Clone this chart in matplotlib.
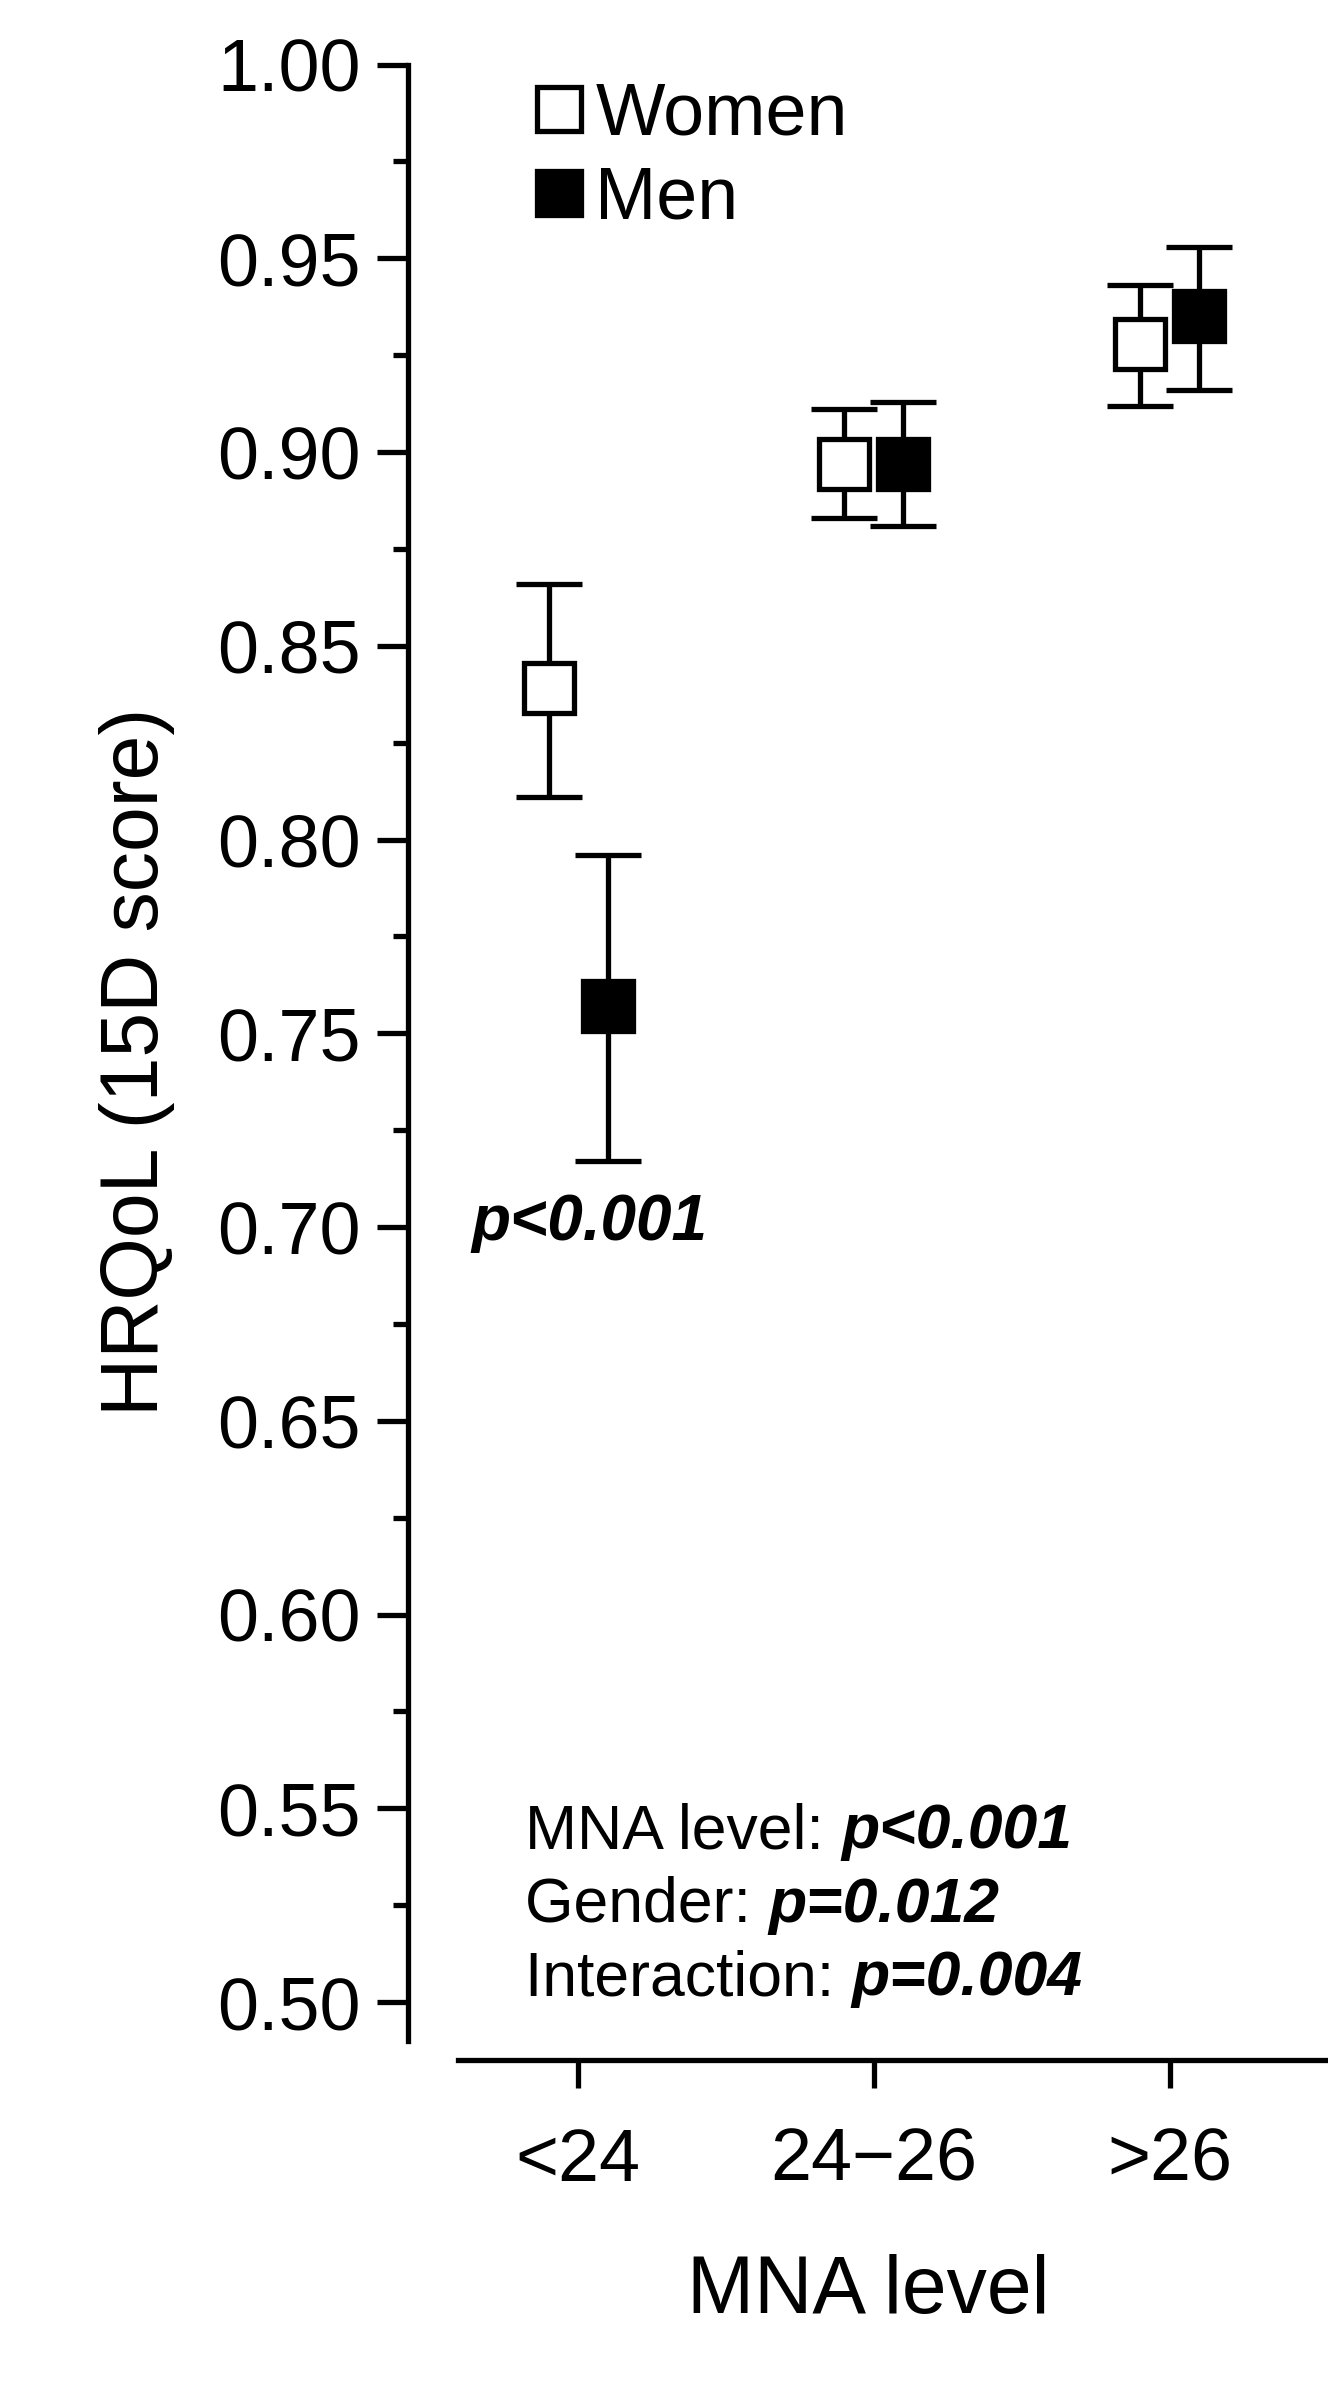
import matplotlib
matplotlib.use("Agg")
import matplotlib.pyplot as plt
from matplotlib.lines import Line2D

plt.rcParams['font.family'] = ['Liberation Sans', 'DejaVu Sans']

categories = ["<24", "24\u221226", ">26"]
women_mean = [0.839, 0.897, 0.928]
women_lo = [0.811, 0.883, 0.912]
women_hi = [0.866, 0.911, 0.943]
men_mean = [0.757, 0.897, 0.935]
men_lo = [0.717, 0.881, 0.916]
men_hi = [0.796, 0.913, 0.953]
yticks = [0.50, 0.55, 0.60, 0.65, 0.70, 0.75, 0.80, 0.85, 0.90, 0.95, 1.00]

fig = plt.figure(figsize=(13.28, 23.9), dpi=100)
ax = fig.add_axes([0.307, 0.138, 0.693, 0.835])

x = list(range(len(categories)))
off = 0.1
xw = [i - off for i in x]
xm = [i + off for i in x]
lw = 3.8
ew = dict(ecolor='black', elinewidth=lw, capsize=24, capthick=lw, linestyle='none')
ax.errorbar(xw, women_mean, yerr=[[m - l for m, l in zip(women_mean, women_lo)],
                                  [h - m for m, h in zip(women_mean, women_hi)]],
            marker='s', markersize=36, markerfacecolor='white', markeredgecolor='black',
            markeredgewidth=lw, zorder=3, **ew)
ax.errorbar(xm, men_mean, yerr=[[m - l for m, l in zip(men_mean, men_lo)],
                                [h - m for m, h in zip(men_mean, men_hi)]],
            marker='s', markersize=36, markerfacecolor='black', markeredgecolor='black',
            markeredgewidth=lw, zorder=3, **ew)

ax.set_xlim(-0.577, 2.536)
ax.set_ylim(0.485, 1.0)
for s in ['top', 'right']:
    ax.spines[s].set_visible(False)
ax.spines['left'].set_bounds(0.49, 1.0)
ax.spines['bottom'].set_bounds(-0.408, 2.536)
for s in ['left', 'bottom']:
    ax.spines[s].set_linewidth(lw)
ax.set_yticks(yticks)
ax.set_yticklabels([f"{v:.2f}" for v in yticks])
ax.set_yticks([v + 0.025 for v in yticks[:-1]], minor=True)
ax.set_xticks(x)
ax.set_xticklabels(categories)
ax.tick_params(axis='y', which='major', length=22, width=lw, labelsize=53, pad=12)
ax.tick_params(axis='y', which='minor', length=11, width=lw)
ax.tick_params(axis='x', length=20, width=lw, labelsize=53, pad=28)
ax.set_xlabel("MNA level", fontsize=58, labelpad=42)
ax.set_ylabel("HRQoL (15D score)", fontsize=58, labelpad=30)

handles = [Line2D([], [], marker='s', linestyle='none', markersize=32, markerfacecolor='white',
                  markeredgecolor='black', markeredgewidth=lw),
           Line2D([], [], marker='s', linestyle='none', markersize=32, markerfacecolor='black',
                  markeredgecolor='black', markeredgewidth=lw)]
ax.legend(handles, ["Women", "Men"], loc='upper left', bbox_to_anchor=(0.06, 1.025),
          frameon=False, fontsize=53, handletextpad=0.1, labelspacing=0.2, handlelength=0.8)

ax.text(0.036, 0.701, "p<0.001", fontsize=46, fontweight='bold', fontstyle='italic',
        ha='center', va='center')

fig.canvas.draw()
r = fig.canvas.get_renderer()
lines = [("MNA level: ", "p<0.001", 0.544), ("Gender: ", "p=0.012", 0.525),
         ("Interaction: ", "p=0.004", 0.506)]
for a, b, yv in lines:
    t = ax.text(-0.18, yv, a, fontsize=45, va='center', ha='left')
    bb = t.get_window_extent(r)
    xd = ax.transData.inverted().transform((bb.x1, bb.y0))[0]
    ax.text(xd, yv, b, fontsize=45, va='center', ha='left', fontweight='bold', fontstyle='italic')

fig.savefig("out.png", dpi=100)
